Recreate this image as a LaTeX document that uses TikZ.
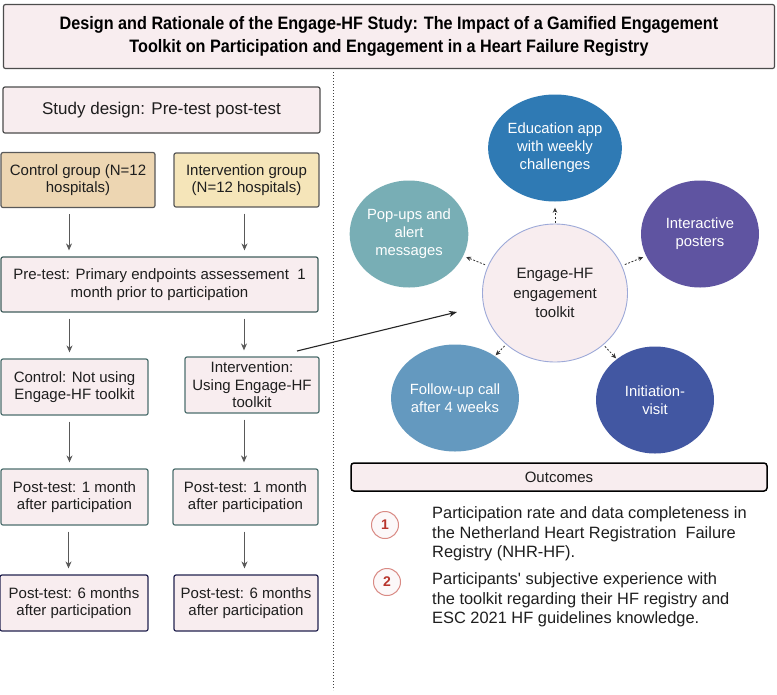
\documentclass[tikz,border=0pt]{standalone}
\usepackage{fontspec}
\setmainfont{Liberation Sans}
\newfontfamily\titlefont[FakeStretch=0.9]{Liberation Sans}
\usetikzlibrary{positioning,arrows.meta,shapes.geometric}
\definecolor{boxpink}{HTML}{F8EDEF}
\definecolor{tanbox}{HTML}{EDD6B2}
\definecolor{yelbox}{HTML}{F5E5B9}
\definecolor{tealline}{HTML}{4D6F6E}
\definecolor{navyline}{HTML}{22224F}
\definecolor{textgray}{HTML}{1E1E1E}
\definecolor{edublue}{HTML}{2F7AB4}
\definecolor{popteal}{HTML}{78AEB5}
\definecolor{postpurple}{HTML}{5F54A1}
\definecolor{callblue}{HTML}{6499BF}
\definecolor{visitblue}{HTML}{4257A2}
\definecolor{ringblue}{HTML}{9DA9D8}
\definecolor{numred}{HTML}{B8342C}
\definecolor{ringred}{HTML}{D98A84}

\tikzset{
    box/.style={draw=#1, fill=boxpink, rounded corners=2pt, line width=1.2pt,
        align=center, inner sep=0pt, text=textgray, font=\fontsize{15}{17.5}\selectfont},
    flowarr/.style={draw=black!65, line width=1pt, -{Stealth[length=7pt,width=6pt]},
        shorten <=6pt, shorten >=6pt},
    bubble/.style={ellipse, fill=#1, minimum width=118pt, minimum height=107pt,
        inner sep=0pt, align=center, text=white, font=\fontsize{14.8}{18}\selectfont},
    linkarr/.style={draw=black!80, line width=0.8pt, dash pattern=on 2pt off 1.6pt,
        -{Stealth[length=5pt,width=4.5pt]}},
    numcirc/.style={circle, draw=ringred, line width=1pt, fill=boxpink!40, minimum size=27pt,
        inner sep=0pt, text=numred, font=\fontsize{14}{14}\selectfont\bfseries},
    outtext/.style={anchor=west, align=left, inner sep=0pt, text=textgray,
        font=\fontsize{16.4}{19.5}\selectfont}
}

\begin{document}
\begin{tikzpicture}[x=1pt, y=-1pt]
    \useasboundingbox (0,0) rectangle (777,694);
    \fill[white] (0,0) rectangle (777,694);

    % title
    \node[box=black!70, minimum width=771pt, minimum height=64pt, font=\titlefont\bfseries\fontsize{18}{23}\selectfont, text=black]
        (T) at (389,36.5) {Design and Rationale of the Engage-HF Study: The Impact of a Gamified Engagement\\Toolkit on Participation and Engagement in a Heart Failure Registry};
    \draw[black!75, line width=1pt, dotted] (333,72) -- (333,690); % divider

    % left column
    \node[box=black!70, minimum width=317pt, minimum height=46pt, font=\fontsize{17}{20}\selectfont]
        (SD) at (161.5,110) {Study design: Pre-test post-test};
    \node[box=black!65, fill=tanbox, minimum width=154pt, minimum height=55pt] (CG) at (78,180) {Control group (N=12\\hospitals)};
    \node[box=black!65, fill=yelbox, minimum width=145pt, minimum height=54pt] (IG) at (246.5,180) {Intervention group\\(N=12 hospitals)};
    \node[box=tealline!85!black, minimum width=317pt, minimum height=55pt] (PT) at (159.5,284.5) {Pre-test: Primary endpoints assessement\ \ 1\\month prior to participation};
    \node[box=tealline, minimum width=147pt, minimum height=56pt] (CN) at (74.5,387) {Control: Not using\\Engage-HF toolkit};
    \node[box=tealline, minimum width=134pt, minimum height=56pt] (IN) at (252,385) {Intervention:\\Using Engage-HF\\toolkit};
    \node[box=tealline, minimum width=147pt, minimum height=56pt] (C1) at (74.5,497) {Post-test: 1 month\\after participation};
    \node[box=tealline, minimum width=145pt, minimum height=56pt] (I1) at (245.5,497) {Post-test: 1 month\\after participation};
    \node[box=navyline, minimum width=148pt, minimum height=56pt] (C6) at (74,603) {Post-test: 6 months\\after participation};
    \node[box=navyline, minimum width=144pt, minimum height=56pt] (I6) at (246,603) {Post-test: 6 months\\after participation};

    \draw[flowarr] ([xshift=-9pt]CG.south) -- ([xshift=-9pt]CG.south |- PT.north);
    \draw[flowarr] ([xshift=-2pt]IG.south) -- ([xshift=-2pt]IG.south |- PT.north);
    \draw[flowarr] ([xshift=-5pt]CN.north |- PT.south) -- ([xshift=-5pt]CN.north);
    \draw[flowarr] ([xshift=-8pt]IN.north |- PT.south) -- ([xshift=-8pt]IN.north);
    \draw[flowarr] ([xshift=-5pt]CN.south) -- ([xshift=-5pt]CN.south |- C1.north);
    \draw[flowarr] ([xshift=-8pt]IN.south) -- ([xshift=-8pt]IN.south |- I1.north);
    \draw[flowarr] ([xshift=-6pt]C1.south) -- ([xshift=-6pt]C1.south |- C6.north);
    \draw[flowarr] ([xshift=-1pt]I1.south) -- ([xshift=-1pt]I1.south |- I6.north);

    % toolkit
    \node[ellipse, draw=ringblue, line width=0.9pt, fill=boxpink, minimum width=145pt, minimum height=138pt,
        inner sep=0pt, align=center, text=textgray, font=\fontsize{15}{19.5}\selectfont]
        (ET) at (555,293) {Engage-HF\\engagement\\toolkit};
    \node[bubble=edublue] (EA) at (555,148) {Education app\\with weekly\\challenges};
    \node[bubble=popteal] (PU) at (409,234) {Pop-ups and\\alert\\messages};
    \node[bubble=postpurple] (IP) at (700,234) {Interactive\\posters};
    \node[bubble=callblue] (FU) at (455,398) {Follow-up call\\after 4 weeks};
    \node[bubble=visitblue] (IV) at (655,400) {Initiation-\\visit};

    \draw[linkarr, shorten <=1pt, shorten >=6pt] (ET) -- (EA);
    \draw[linkarr, shorten <=3pt, shorten >=3pt] (ET) -- (PU);
    \draw[linkarr, shorten <=3pt, shorten >=3pt] (ET) -- (IP);
    \draw[linkarr, shorten <=2pt, shorten >=1pt] (ET) -- (FU);
    \draw[linkarr, shorten <=2pt, shorten >=1pt] (ET) -- (IV);

    \coordinate (LA) at (297,351);
    \coordinate (LB) at (457,312);
    \draw[black!85, line width=1.1pt, -{Stealth[length=8pt,width=6pt]}] (LA) -- (LB);

    % outcomes
    \node[box=black, line width=1.5pt, rounded corners=3pt, minimum width=416pt, minimum height=28pt,
        font=\fontsize{15}{17}\selectfont] (OC) at (559,477) {Outcomes};
    \node[numcirc] (N1) at (385,525) {1};
    \node[numcirc] (N2) at (387,582) {2};
    \node[outtext] (O1) at (432,534) {Participation rate and data completeness in\\the Netherland Heart Registration\ \ Failure\\Registry (NHR-HF).};
    \node[outtext] (O2) at (432,600) {Participants\textquotesingle\ subjective experience with\\the toolkit regarding their HF registry and\\ESC 2021 HF guidelines knowledge.};
\end{tikzpicture}
\end{document}
